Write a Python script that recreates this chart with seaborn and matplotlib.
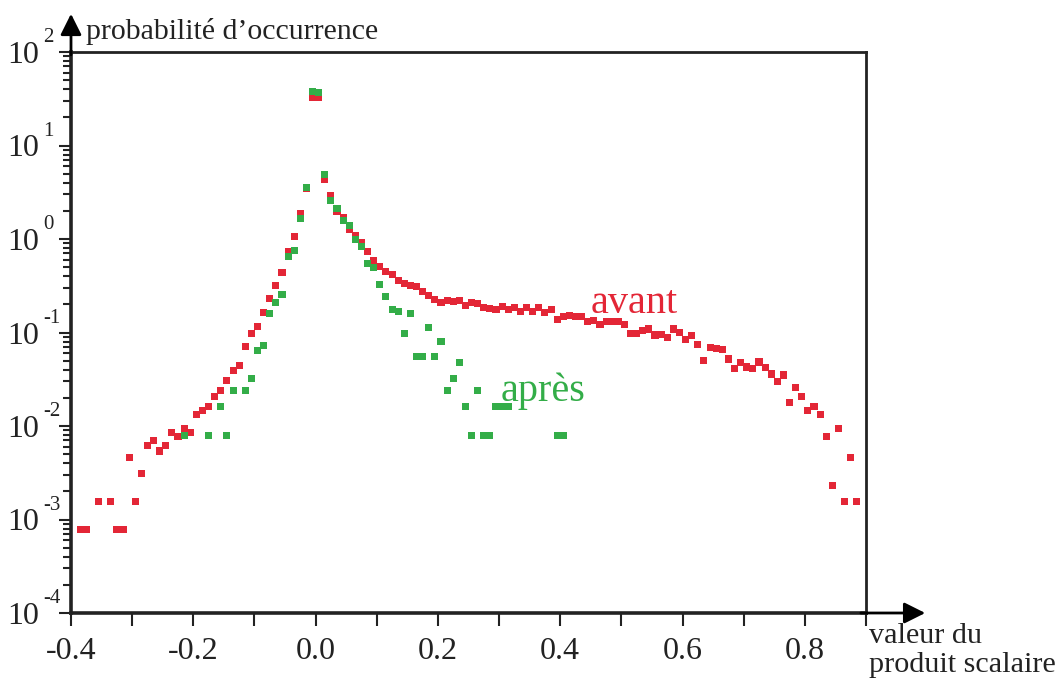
import numpy as np
import pandas as pd
import seaborn as sns
import matplotlib
matplotlib.use("Agg")
import matplotlib.pyplot as plt
from matplotlib.ticker import LogLocator, MultipleLocator, NullFormatter, FixedLocator

# histogram bins (centres) and occurrence probability, before / after
x_avant = [-0.385, -0.375, -0.355, -0.335, -0.325, -0.315, -0.305, -0.295, -0.285, -0.275,
           -0.265, -0.255, -0.245, -0.235, -0.225, -0.215, -0.205, -0.195, -0.185, -0.175,
           -0.165, -0.155, -0.145, -0.135, -0.125, -0.115, -0.105, -0.095, -0.085, -0.075,
           -0.065, -0.055, -0.045, -0.035, -0.025, -0.015, -0.005, 0.005, 0.015, 0.025,
           0.035, 0.045, 0.055, 0.065, 0.075, 0.085, 0.095, 0.105, 0.115, 0.125,
           0.135, 0.145, 0.155, 0.165, 0.175, 0.185, 0.195, 0.205, 0.215, 0.225,
           0.235, 0.245, 0.255, 0.265, 0.275, 0.285, 0.295, 0.305, 0.315, 0.325,
           0.335, 0.345, 0.355, 0.365, 0.375, 0.385, 0.395, 0.405, 0.415, 0.425,
           0.435, 0.445, 0.455, 0.465, 0.475, 0.485, 0.495, 0.505, 0.515, 0.525,
           0.535, 0.545, 0.555, 0.565, 0.575, 0.585, 0.595, 0.605, 0.615, 0.625,
           0.635, 0.645, 0.655, 0.665, 0.675, 0.685, 0.695, 0.705, 0.715, 0.725,
           0.735, 0.745, 0.755, 0.765, 0.775, 0.785, 0.795, 0.805, 0.815, 0.825,
           0.835, 0.845, 0.855, 0.865, 0.875, 0.885]
y_avant = [0.00078, 0.00078, 0.00155, 0.00155, 0.00078, 0.00078, 0.00465, 0.00155, 0.0031, 0.0062,
           0.0070, 0.0054, 0.0062, 0.0085, 0.0077, 0.0093, 0.0085, 0.0132, 0.0148, 0.0163,
           0.0209, 0.0240, 0.031, 0.0394, 0.0442, 0.0707, 0.0973, 0.115, 0.162, 0.231,
           0.318, 0.441, 0.736, 1.07, 1.87, 3.5, 32.4, 32.4, 4.33, 2.93,
           1.98, 1.69, 1.27, 1.09, 0.91, 0.741, 0.59, 0.508, 0.453, 0.414,
           0.36, 0.332, 0.321, 0.31, 0.277, 0.249, 0.225, 0.211, 0.22, 0.215,
           0.22, 0.194, 0.211, 0.202, 0.184, 0.179, 0.175, 0.19, 0.175, 0.186,
           0.167, 0.184, 0.167, 0.184, 0.163, 0.176, 0.139, 0.149, 0.152, 0.149,
           0.149, 0.130, 0.134, 0.122, 0.130, 0.130, 0.130, 0.122, 0.098, 0.098,
           0.104, 0.109, 0.094, 0.095, 0.0875, 0.109, 0.099, 0.0845, 0.092, 0.0736,
           0.0503, 0.0694, 0.0672, 0.0656, 0.0521, 0.0408, 0.0475, 0.0428, 0.041, 0.0484,
           0.042, 0.036, 0.0298, 0.0351, 0.0177, 0.0257, 0.0209, 0.0148, 0.0163, 0.0133,
           0.0078, 0.0023, 0.0093, 0.00155, 0.00465, 0.00155]

x_apres = [-0.215, -0.175, -0.155, -0.145, -0.135, -0.115, -0.105, -0.095, -0.085, -0.075,
           -0.065, -0.055, -0.045, -0.035, -0.025, -0.015, -0.005, 0.005, 0.015, 0.025,
           0.035, 0.045, 0.055, 0.065, 0.075, 0.085, 0.095, 0.105, 0.115, 0.125,
           0.135, 0.145, 0.155, 0.165, 0.175, 0.185, 0.195, 0.205, 0.215, 0.225,
           0.235, 0.245, 0.255, 0.265, 0.275, 0.285, 0.295, 0.305, 0.315, 0.395,
           0.405]
y_apres = [0.008, 0.008, 0.016, 0.008, 0.024, 0.024, 0.032, 0.064, 0.072, 0.161,
           0.209, 0.257, 0.65, 0.748, 1.65, 3.55, 38.2, 37.3, 4.89, 2.6,
           2.14, 1.56, 1.38, 0.98, 0.83, 0.552, 0.50, 0.324, 0.243, 0.177,
           0.169, 0.0966, 0.161, 0.056, 0.056, 0.112, 0.056, 0.080, 0.024, 0.032,
           0.048, 0.016, 0.008, 0.024, 0.008, 0.008, 0.016, 0.016, 0.016, 0.008,
           0.008]

# y axis decades and their exponent labels
y_decades = [1e-4, 1e-3, 1e-2, 1e-1, 1e0, 1e1, 1e2]
y_exponents = ["-4", "-3", "-2", "-1", "0", "1", "2"]
x_ticks = [-0.4, -0.2, 0.0, 0.2, 0.4, 0.6, 0.8]
x_ticklabels = ["-0.4", "-0.2", "0.0", "0.2", "0.4", "0.6", "0.8"]

red = "#e32636"
green = "#33ad48"
ink = "#222222"

sns.set_style("ticks")
plt.rcParams["font.family"] = ["Liberation Serif", "DejaVu Serif"]

df = pd.concat([
    pd.DataFrame({"x": x_avant, "p": y_avant, "serie": "avant"}),
    pd.DataFrame({"x": x_apres, "p": y_apres, "serie": "après"}),
], ignore_index=True)

fig = plt.figure(figsize=(10.59, 6.81), dpi=100)
W, H = 1059, 681
ax = fig.add_axes([71 / W, 1 - 613 / H, (866 - 71) / W, (613 - 52) / H])

sns.scatterplot(data=df, x="x", y="p", hue="serie", palette={"avant": red, "après": green},
                marker="s", s=26, linewidth=0, legend=False, ax=ax)

ax.set_yscale("log")
ax.set_xlim(-0.4, 0.9)
ax.set_ylim(1e-4, 1e2)
ax.set_xlabel("")
ax.set_ylabel("")

ax.set_xticks(x_ticks)
ax.set_xticklabels(x_ticklabels)
ax.xaxis.set_minor_locator(MultipleLocator(0.1))
ax.yaxis.set_major_locator(FixedLocator(y_decades))
ax.set_yticklabels(["10"] * len(y_decades))
ax.yaxis.set_minor_locator(LogLocator(base=10, subs=np.arange(2, 10), numticks=10))
ax.yaxis.set_minor_formatter(NullFormatter())

ax.tick_params(axis="both", which="major", direction="out", length=9, width=1.5,
               labelsize=23, color=ink, labelcolor=ink)
ax.tick_params(axis="x", which="major", pad=8)
ax.tick_params(axis="y", which="major", pad=14)
ax.tick_params(axis="x", which="minor", direction="out", length=9, width=1.5, color=ink)
ax.tick_params(axis="y", which="minor", direction="out", length=6, width=1.5, color=ink)

# exponents written as superscripts next to each "10"
for val, exp in zip(y_decades, y_exponents):
    ax.annotate(exp, xy=(0, val), xycoords=("axes fraction", "data"),
                xytext=(-20, 7), textcoords="offset points", fontsize=15,
                ha="left", va="baseline", color=ink, annotation_clip=False)

for side in ["left", "bottom"]:
    ax.spines[side].set_linewidth(2.6)
for side in ["top", "right"]:
    ax.spines[side].set_linewidth(2)
for sp in ax.spines.values():
    sp.set_color(ink)

# axis arrows
ax.annotate("", xy=(0, 1.073), xytext=(0, 0.99), xycoords="axes fraction",
            arrowprops=dict(arrowstyle="-|>", mutation_scale=32, color="black", lw=2))
ax.annotate("", xy=(1.078, 0), xytext=(0.99, 0), xycoords="axes fraction",
            arrowprops=dict(arrowstyle="-|>", mutation_scale=32, color="black", lw=2))

fig.text(86 / W, 1 - 39 / H, "probabilité d\u2019occurrence", fontsize=21.5, ha="left",
         va="baseline", color=ink)
fig.text(869 / W, 1 - 643 / H, "valeur du", fontsize=21.7, ha="left",
         va="baseline", color=ink)
fig.text(869 / W, 1 - 672 / H, "produit scalaire", fontsize=21.7, ha="left",
         va="baseline", color=ink)

ax.text(0.450, 0.16, "avant", color=red, fontsize=29, ha="left", va="baseline")
ax.text(0.3026, 0.0186, "après", color=green, fontsize=29, ha="left", va="baseline")

fig.savefig("out.png", dpi=100)
